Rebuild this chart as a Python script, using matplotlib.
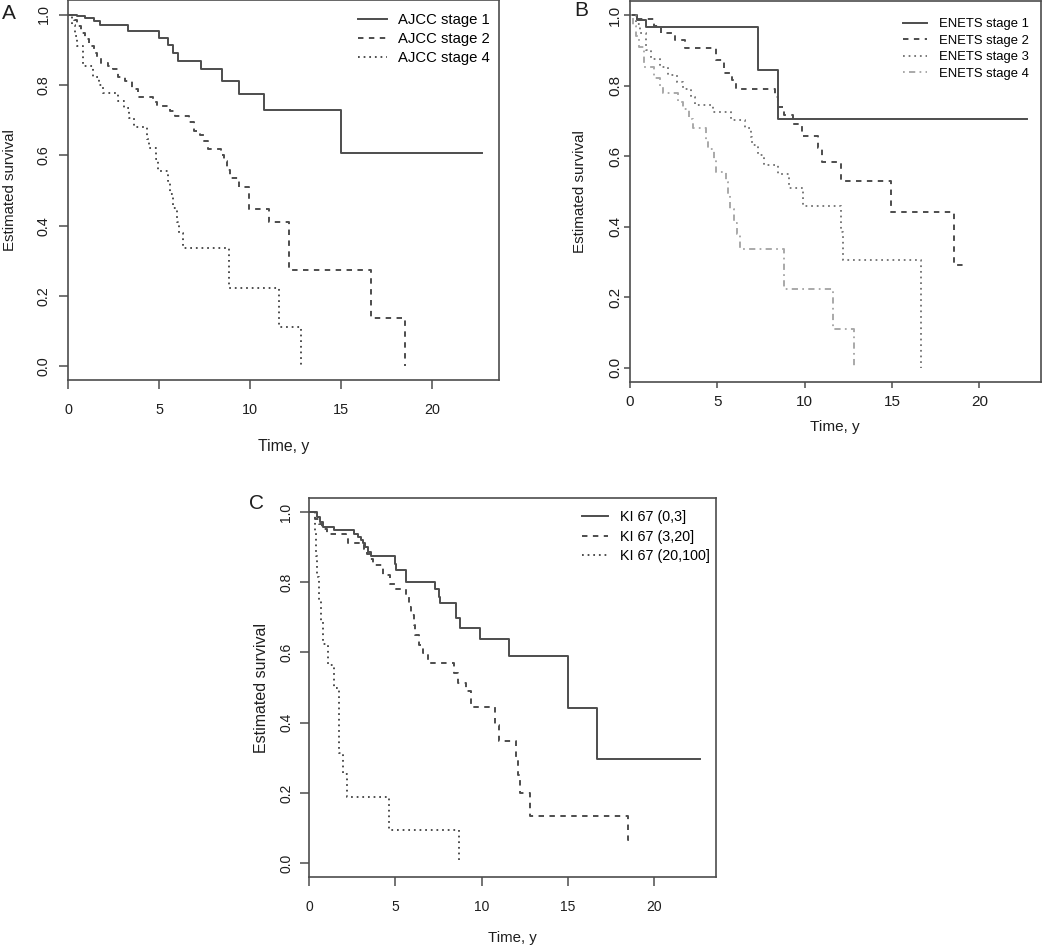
import matplotlib
matplotlib.use("Agg")
import matplotlib.pyplot as plt

plt.rcParams['font.family'] = ['Liberation Sans', 'DejaVu Sans']

# ---- Panel A: AJCC stage (Kaplan-Meier estimates) ----
ajcc1_t = [0, 0.46, 0.91, 1.43, 1.74, 3.29, 5.0, 5.49, 5.76, 6.04, 7.28, 8.42, 9.39, 10.76, 15.0, 22.7]
ajcc1_s = [1.0, 0.995, 0.989, 0.981, 0.969, 0.953, 0.934, 0.913, 0.891, 0.869, 0.844, 0.812, 0.775, 0.728, 0.607, 0.607]

ajcc2_t = [0, 0.3, 0.5, 0.7, 0.9, 1.15, 1.4, 1.6, 1.8, 2.2, 2.45, 2.75, 3.1, 3.5, 3.85, 4.65, 4.9,
           5.6, 5.85, 6.65, 6.9, 7.25, 7.45, 7.7, 8.4, 8.55, 8.7, 8.9, 9.4, 9.9, 11.0, 12.1, 16.65, 18.5]
ajcc2_s = [1.0, 0.985, 0.967, 0.948, 0.93, 0.91, 0.891, 0.877, 0.863, 0.853, 0.844, 0.823, 0.811, 0.787,
           0.765, 0.752, 0.74, 0.725, 0.711, 0.695, 0.67, 0.659, 0.641, 0.617, 0.6, 0.584, 0.557, 0.535,
           0.51, 0.448, 0.41, 0.273, 0.137, 0.0]

# stage 4 is the same group in both staging systems
stage4_t = [0, 0.2, 0.35, 0.5, 0.8, 1.35, 1.7, 1.9, 2.75, 3.05, 3.35, 3.6, 4.35, 4.45, 4.8, 4.95,
            5.5, 5.6, 5.75, 5.95, 6.1, 6.3, 8.8, 11.6, 12.8]
stage4_s = [1.0, 0.97, 0.94, 0.91, 0.853, 0.823, 0.8, 0.778, 0.755, 0.733, 0.705, 0.68, 0.645, 0.62,
            0.59, 0.555, 0.527, 0.49, 0.45, 0.41, 0.38, 0.336, 0.223, 0.111, 0.0]

# ---- Panel B: ENETS stage ----
enets1_t = [0, 0.4, 0.9, 7.3, 8.45, 22.7]
enets1_s = [1.0, 0.985, 0.967, 0.845, 0.705, 0.705]

enets2_t = [0, 0.3, 1.35, 1.75, 2.6, 3.15, 4.9, 5.4, 5.85, 6.05, 8.3, 8.45, 8.8, 9.35, 9.85, 10.75,
            11.0, 12.1, 14.95, 18.55, 19.15]
enets2_s = [1.0, 0.99, 0.97, 0.948, 0.93, 0.907, 0.872, 0.835, 0.816, 0.792, 0.768, 0.74, 0.717, 0.69,
            0.657, 0.622, 0.584, 0.529, 0.442, 0.293, 0.293]

enets3_t = [0, 0.35, 0.55, 0.9, 1.2, 1.7, 2.2, 2.7, 3.05, 3.5, 3.7, 4.75, 5.8, 6.6, 6.9, 7.0, 7.3,
            7.65, 8.45, 9.1, 9.9, 12.05, 12.2, 16.65]
enets3_s = [1.0, 0.975, 0.948, 0.9, 0.877, 0.853, 0.83, 0.81, 0.792, 0.768, 0.745, 0.726, 0.702,
            0.679, 0.655, 0.631, 0.603, 0.575, 0.549, 0.51, 0.459, 0.386, 0.307, 0.0]

# ---- Panel C: Ki-67 index ----
ki1_t = [0, 0.45, 0.63, 0.81, 1.41, 2.6, 2.8, 2.98, 3.1, 3.25, 3.43, 3.6, 4.95, 5.05, 5.6, 7.3, 7.5,
         7.6, 8.49, 8.76, 9.9, 11.6, 15.0, 16.7, 22.7]
ki1_s = [1.0, 0.985, 0.973, 0.958, 0.949, 0.938, 0.93, 0.921, 0.911, 0.9, 0.886, 0.876, 0.853, 0.834,
         0.80, 0.782, 0.758, 0.741, 0.697, 0.669, 0.637, 0.590, 0.441, 0.296, 0.296]

ki2_t = [0, 0.35, 0.55, 0.72, 1.0, 2.1, 2.25, 3.0, 3.15, 3.35, 3.5, 3.7, 4.3, 4.7, 5.05, 5.6, 5.8,
         5.9, 6.05, 6.15, 6.35, 6.6, 6.9, 8.4, 8.6, 9.1, 9.4, 10.8, 11.0, 12.0, 12.1, 12.2, 12.8,
         18.5, 18.8]
ki2_s = [1.0, 0.98, 0.966, 0.952, 0.938, 0.923, 0.911, 0.905, 0.895, 0.881, 0.867, 0.848, 0.82,
         0.796, 0.782, 0.758, 0.73, 0.706, 0.678, 0.65, 0.62, 0.598, 0.571, 0.541, 0.513, 0.489,
         0.446, 0.394, 0.348, 0.30, 0.25, 0.2, 0.133, 0.066, 0.066]

ki3_t = [0, 0.33, 0.38, 0.45, 0.55, 0.7, 0.81, 1.08, 1.45, 1.7, 1.72, 1.75, 1.97, 2.17, 4.6, 8.7]
ki3_s = [1.0, 0.94, 0.875, 0.815, 0.75, 0.69, 0.625, 0.565, 0.5, 0.44, 0.375, 0.314, 0.253, 0.187,
         0.095, 0.0]

x_ticks = [0, 5, 10, 15, 20]
y_ticks = [0.0, 0.2, 0.4, 0.6, 0.8, 1.0]
y_tick_labels = ["0.0", "0.2", "0.4", "0.6", "0.8", "1.0"]

DARK = "#4d4d4d"
TXT = "#1e1e1e"
LW = 1.4
SOLID = "-"
DASH = (0, (2.8, 2.8))
DOT = (0, (0.9, 2.0))
DOTDASH = (0, (0.9, 2.2, 3.2, 2.2))


def style(ax, xmax, tick_fs, tick_len, xpad, ypad):
    ax.set_xlim(0, xmax)
    ax.set_ylim(-0.04, 1.04)
    ax.set_xticks(x_ticks)
    ax.set_yticks(y_ticks)
    ax.set_yticklabels(y_tick_labels, rotation=90, va="center")
    ax.tick_params(direction="out", length=tick_len, width=1.1, color=DARK,
                   labelsize=tick_fs, labelcolor=TXT)
    ax.tick_params(axis="x", pad=xpad)
    ax.tick_params(axis="y", pad=ypad)
    for sp in ax.spines.values():
        sp.set_color(DARK)
        sp.set_linewidth(1.2)


def labels(ax, xl_y, yl_x, xfs, yfs):
    ax.set_xlabel("Time, y", fontsize=xfs, color=TXT)
    ax.xaxis.set_label_coords(0.5, xl_y)
    ax.xaxis.label.set_va("center")
    ax.set_ylabel("Estimated survival", fontsize=yfs, color=TXT)
    ax.yaxis.set_label_coords(yl_x, 0.5)
    ax.yaxis.label.set_va("center")


def km(ax, t, s, ls, color=DARK, label=None):
    ax.plot(t, s, drawstyle="steps-post", color=color, lw=LW, linestyle=ls, label=label)


fig = plt.figure(figsize=(10.5, 9.46), dpi=100)

# Panel A
axA = fig.add_axes([0.065, 0.5978, 0.410, 0.4017])
km(axA, ajcc1_t, ajcc1_s, SOLID, label="AJCC stage 1")
km(axA, ajcc2_t, ajcc2_s, DASH, label="AJCC stage 2")
km(axA, stage4_t, stage4_s, DOT, label="AJCC stage 4")
style(axA, 23.64, 10.4, 6.5, 10, 6)
labels(axA, -0.174, -0.135, 11.4, 10.8)
axA.legend(loc="upper left", bbox_to_anchor=(0.6726, 0.966), frameon=False, fontsize=10.7,
           handlelength=1.95, handletextpad=0.74, labelspacing=0.33, borderpad=0, borderaxespad=0)
fig.text(9.3 / 1050, 1 - 13.3 / 946, "A", fontsize=15, color=TXT, ha="center", va="center")

# Panel B
axB = fig.add_axes([0.6, 0.5962, 0.3911, 0.4027])
km(axB, enets1_t, enets1_s, SOLID, label="ENETS stage 1")
km(axB, enets2_t, enets2_s, DASH, label="ENETS stage 2")
km(axB, enets3_t, enets3_s, DOT, color="#7a7a7a", label="ENETS stage 3")
km(axB, stage4_t, stage4_s, DOTDASH, color="#a9a9a9", label="ENETS stage 4")
style(axB, 23.5, 11, 4.3, 5, 1.5)
labels(axB, -0.117, -0.122, 11.1, 10.9)
axB.legend(loc="upper left", bbox_to_anchor=(0.665, 0.955), frameon=False, fontsize=9.4,
           handlelength=1.84, handletextpad=0.92, labelspacing=0.33, borderpad=0, borderaxespad=0)
fig.text(581.7 / 1050, 1 - 10 / 946, "B", fontsize=15, color=TXT, ha="center", va="center")

# Panel C
axC = fig.add_axes([0.2946, 0.0729, 0.3873, 0.4006])
km(axC, ki1_t, ki1_s, SOLID, label="KI 67 (0,3]")
km(axC, ki2_t, ki2_s, DASH, label="KI 67 (3,20]")
km(axC, ki3_t, ki3_s, DOT, label="KI 67 (20,100]")
style(axC, 23.6, 10, 6.7, 9.5, 5)
labels(axC, -0.162, -0.117, 10.8, 11.5)
axC.legend(loc="upper left", bbox_to_anchor=(0.67, 0.968), frameon=False, fontsize=10.3,
           handlelength=1.86, handletextpad=0.82, labelspacing=0.38, borderpad=0, borderaxespad=0)
fig.text(256.7 / 1050, 1 - 503.3 / 946, "C", fontsize=15, color=TXT, ha="center", va="center")

fig.savefig("out.png", dpi=100, facecolor="white")
